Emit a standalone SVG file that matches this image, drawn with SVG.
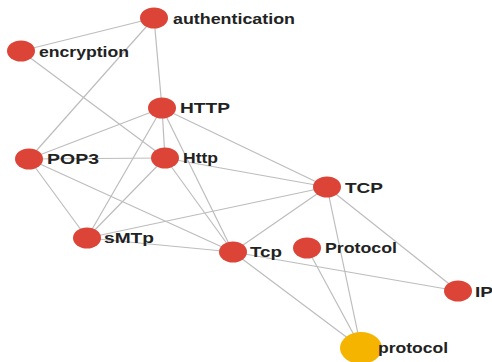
<svg xmlns="http://www.w3.org/2000/svg" width="492" height="362" viewBox="0 0 492 362">
<style>
.e line{stroke:#bdbdbd;stroke-width:1.2}
.n ellipse{fill:#db4437}
.n ellipse.y{fill:#f4b400}
.n text{font-family:"Liberation Sans",Arial,sans-serif;font-weight:bold;font-size:15px;fill:#222}
</style>
<rect width="492" height="362" fill="#fff"/>
<g id="connectors" class="e">
<line x1="154" y1="18" x2="21" y2="51"/>
<line x1="154" y1="18" x2="29" y2="159"/>
<line x1="154" y1="18" x2="162" y2="108"/>
<line x1="21" y1="51" x2="165" y2="158"/>
<line x1="162" y1="108" x2="29" y2="159"/>
<line x1="162" y1="108" x2="165" y2="158"/>
<line x1="162" y1="108" x2="87" y2="238"/>
<line x1="162" y1="108" x2="233" y2="252"/>
<line x1="162" y1="108" x2="327" y2="187"/>
<line x1="29" y1="159" x2="165" y2="158"/>
<line x1="29" y1="159" x2="87" y2="238"/>
<line x1="29" y1="159" x2="233" y2="252"/>
<line x1="165" y1="158" x2="87" y2="238"/>
<line x1="165" y1="158" x2="233" y2="252"/>
<line x1="165" y1="158" x2="327" y2="187"/>
<line x1="87" y1="238" x2="327" y2="187"/>
<line x1="87" y1="238" x2="233" y2="252"/>
<line x1="233" y1="252" x2="327" y2="187"/>
<line x1="233" y1="252" x2="458" y2="291"/>
<line x1="233" y1="252" x2="361" y2="348"/>
<line x1="327" y1="187" x2="361" y2="348"/>
<line x1="327" y1="187" x2="458" y2="291"/>
<line x1="307" y1="248" x2="361" y2="348"/>
</g>
<g class="n">
<g id="n-authentication"><ellipse cx="154" cy="18" rx="14" ry="10.5"/><text x="173" y="24" textLength="122" lengthAdjust="spacingAndGlyphs">authentication</text></g>
<g id="n-encryption"><ellipse cx="21" cy="51" rx="14" ry="10.5"/><text x="39" y="57" textLength="90" lengthAdjust="spacingAndGlyphs">encryption</text></g>
<g id="n-HTTP"><ellipse cx="162" cy="108" rx="14" ry="10.5"/><text x="180" y="113" textLength="50" lengthAdjust="spacingAndGlyphs">HTTP</text></g>
<g id="n-POP3"><ellipse cx="29" cy="159" rx="14" ry="10.5"/><text x="47" y="164" textLength="52" lengthAdjust="spacingAndGlyphs">POP3</text></g>
<g id="n-Http"><ellipse cx="165" cy="158" rx="14" ry="10.5"/><text x="183" y="163" textLength="35" lengthAdjust="spacingAndGlyphs">Http</text></g>
<g id="n-sMTp"><ellipse cx="87" cy="238" rx="14" ry="10.5"/><text x="104" y="243" textLength="50" lengthAdjust="spacingAndGlyphs">sMTp</text></g>
<g id="n-Tcp"><ellipse cx="233" cy="252" rx="14" ry="10.5"/><text x="250" y="257" textLength="32" lengthAdjust="spacingAndGlyphs">Tcp</text></g>
<g id="n-TCP"><ellipse cx="327" cy="187" rx="14" ry="10.5"/><text x="345" y="193" textLength="38" lengthAdjust="spacingAndGlyphs">TCP</text></g>
<g id="n-Protocol"><ellipse cx="307" cy="248" rx="14" ry="10.5"/><text x="325" y="253" textLength="72" lengthAdjust="spacingAndGlyphs">Protocol</text></g>
<g id="n-IP"><ellipse cx="458" cy="291" rx="14" ry="10.5"/><text x="475" y="297" textLength="18" lengthAdjust="spacingAndGlyphs">IP</text></g>
<g id="n-protocol"><ellipse class="y" cx="361" cy="348" rx="21" ry="16"/><text x="378" y="353" textLength="70" lengthAdjust="spacingAndGlyphs">protocol</text></g>
</g>
</svg>
